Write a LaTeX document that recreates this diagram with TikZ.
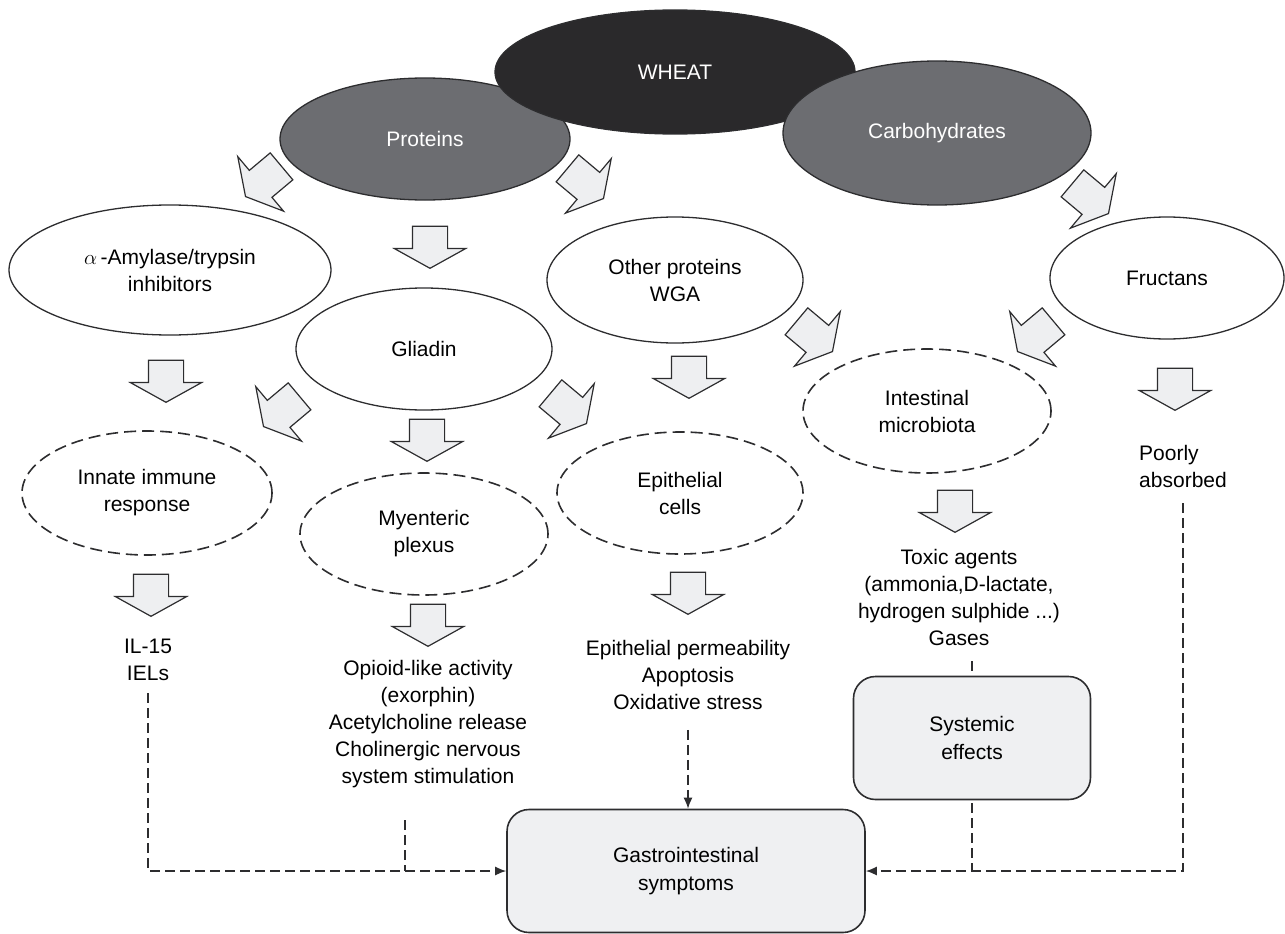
\documentclass[tikz,border=0pt]{standalone}
\usepackage{fontspec}
\setmainfont{Liberation Sans}
\usepackage{color}
\definecolor{wheatdark}{RGB}{42,41,43}
\definecolor{partgrey}{RGB}{108,109,113}
\definecolor{linegrey}{RGB}{45,45,47}
\definecolor{flowfill}{RGB}{238,239,241}
\definecolor{boxfill}{RGB}{239,240,242}
\usepackage{tikz}
\usetikzlibrary{arrows.meta}
\usetikzlibrary{positioning,shapes,calc}
\tikzstyle{ell_base} = [ellipse, draw=linegrey, line width=1.3pt, inner sep=0pt, align=center, font=\fontsize{21}{27}\selectfont]
\tikzstyle{ell_wheat} = [ell_base, fill=wheatdark, text=white]
\tikzstyle{ell_part} = [ell_base, fill=partgrey, text=white]
\tikzstyle{ell_comp} = [ell_base, fill=white]
\tikzstyle{ell_site} = [ell_base, fill=white, line width=1.6pt, dash pattern=on 12pt off 6pt]
\tikzstyle{txt_effect} = [align=center, inner sep=0pt, font=\fontsize{21}{27}\selectfont]
\tikzstyle{box_result} = [rectangle, draw=linegrey, fill=boxfill, line width=1.6pt, rounded corners=22pt, align=center, font=\fontsize{21}{28}\selectfont]
\tikzstyle{block_arrow} = [single arrow, draw=linegrey, fill=flowfill, line width=1.2pt, inner xsep=0pt, inner ysep=17pt, single arrow head extend=18pt, single arrow head indent=0pt, single arrow tip angle=122, minimum height=42pt, anchor=tip]
\tikzstyle{arrow_dash} = [draw=linegrey, line width=1.5pt, dash pattern=on 10pt off 5pt]

\begin{document}
\begin{tikzpicture}[x=1pt, y=-1pt, >={Latex[length=11pt,width=9pt]}]
      \useasboundingbox (0,0) rectangle (1285,934);

      % Wheat and its two fractions
      \node[ell_part, minimum width=290pt, minimum height=122pt] (proteins) at (425,139) {Proteins};
      \node[ell_wheat, minimum width=360pt, minimum height=124pt] (wheat) at (675,72) {WHEAT};
      \node[ell_part, minimum width=308pt, minimum height=144pt] (carbo) at (937,133) {Carbohydrates};

      % Components
      \node[ell_comp, minimum width=322pt, minimum height=130pt] (amylase) at (170,270) {$\alpha$\,-Amylase/trypsin\\inhibitors};
      \node[ell_comp, minimum width=256pt, minimum height=122pt] (gliadin) at (424,349) {Gliadin};
      \node[ell_comp, minimum width=256pt, minimum height=126pt] (other) at (675,280) {Other proteins\\WGA};
      \node[ell_comp, minimum width=234pt, minimum height=122pt] (fructans) at (1167,278) {Fructans};

      % Targets
      \node[ell_site, minimum width=250pt, minimum height=124pt] (innate) at (147,493) {Innate immune\\response};
      \node[ell_site, minimum width=248pt, minimum height=122pt] (myenteric) at (424,534) {Myenteric\\plexus};
      \node[ell_site, minimum width=246pt, minimum height=122pt] (epicells) at (680,493) {Epithelial\\cells};
      \node[ell_site, minimum width=248pt, minimum height=124pt] (microbiota) at (927,411) {Intestinal\\microbiota};

      % Effects
      \node[txt_effect] (iels) at (148,660) {IL-15\\IELs};
      \node[txt_effect] (opioid) at (428,724) {Opioid-like activity\\(exorphin)\\Acetylcholine release\\Cholinergic nervous\\system stimulation};
      \node[txt_effect] (perm) at (688,675) {Epithelial permeability\\Apoptosis\\Oxidative stress};
      \node[txt_effect] (toxic) at (959,597) {Toxic agents\\(ammonia,D-lactate,\\hydrogen sulphide ...)\\Gases};
      \node[txt_effect, align=left] (poorly) at (1183,466) {Poorly\\absorbed};

      % Boxes
      \node[box_result, minimum width=237pt, minimum height=123pt] (sys) at (972,738) {Systemic\\effects};
      \node[box_result, minimum width=358pt, minimum height=123pt] (gi) at (686,871) {Gastrointestinal\\symptoms};

      % Block arrows
      \node[block_arrow, rotate=-140, minimum height=47pt] (a_amylase) at (245,197) {};
      \node[block_arrow, rotate=-90] (a_gliadin) at (430,269) {};
      \node[block_arrow, rotate=-40, minimum height=47pt] (a_other) at (604,199) {};
      \node[block_arrow, rotate=-40, minimum height=47pt] (a_fructans) at (1109,214) {};
      \node[block_arrow, rotate=-90] (a_innate) at (166,403) {};
      \node[block_arrow, rotate=-140, minimum height=47pt] (a_innate2) at (263,427) {};
      \node[block_arrow, rotate=-90] (a_myenteric) at (427,462) {};
      \node[block_arrow, rotate=-40, minimum height=47pt] (a_epicells) at (587,424) {};
      \node[block_arrow, rotate=-90] (a_epicells2) at (689,399) {};
      \node[block_arrow, rotate=-40, minimum height=47pt] (a_microbiota) at (833,352) {};
      \node[block_arrow, rotate=-140, minimum height=47pt] (a_microbiota2) at (1017,352) {};
      \node[block_arrow, rotate=-90] (a_poorly) at (1175,411) {};
      \node[block_arrow, rotate=-90] (a_iels) at (151,617) {};
      \node[block_arrow, rotate=-90] (a_opioid) at (428,647) {};
      \node[block_arrow, rotate=-90] (a_perm) at (688,615) {};
      \node[block_arrow, rotate=-90] (a_toxic) at (955,533) {};

      % Dashed links
      \coordinate (opioid_drop) at (405,820);
      \draw[arrow_dash, ->, shorten <=12pt] (iels.south) |- (gi.west);
      \draw[arrow_dash] (opioid_drop) -- (opioid_drop |- gi.west);
      \draw[arrow_dash, ->, shorten <=20pt] (perm.south) -- (perm.south |- gi.north);
      \draw[arrow_dash, shorten <=16pt] (toxic.south -| sys.north) -- (sys.north);
      \draw[arrow_dash, shorten <=3pt] (sys.south) -- (sys.south |- gi.east);
      \draw[arrow_dash, ->, shorten <=16pt] (poorly.south) |- (gi.east);

    \end{tikzpicture}
\end{document}
